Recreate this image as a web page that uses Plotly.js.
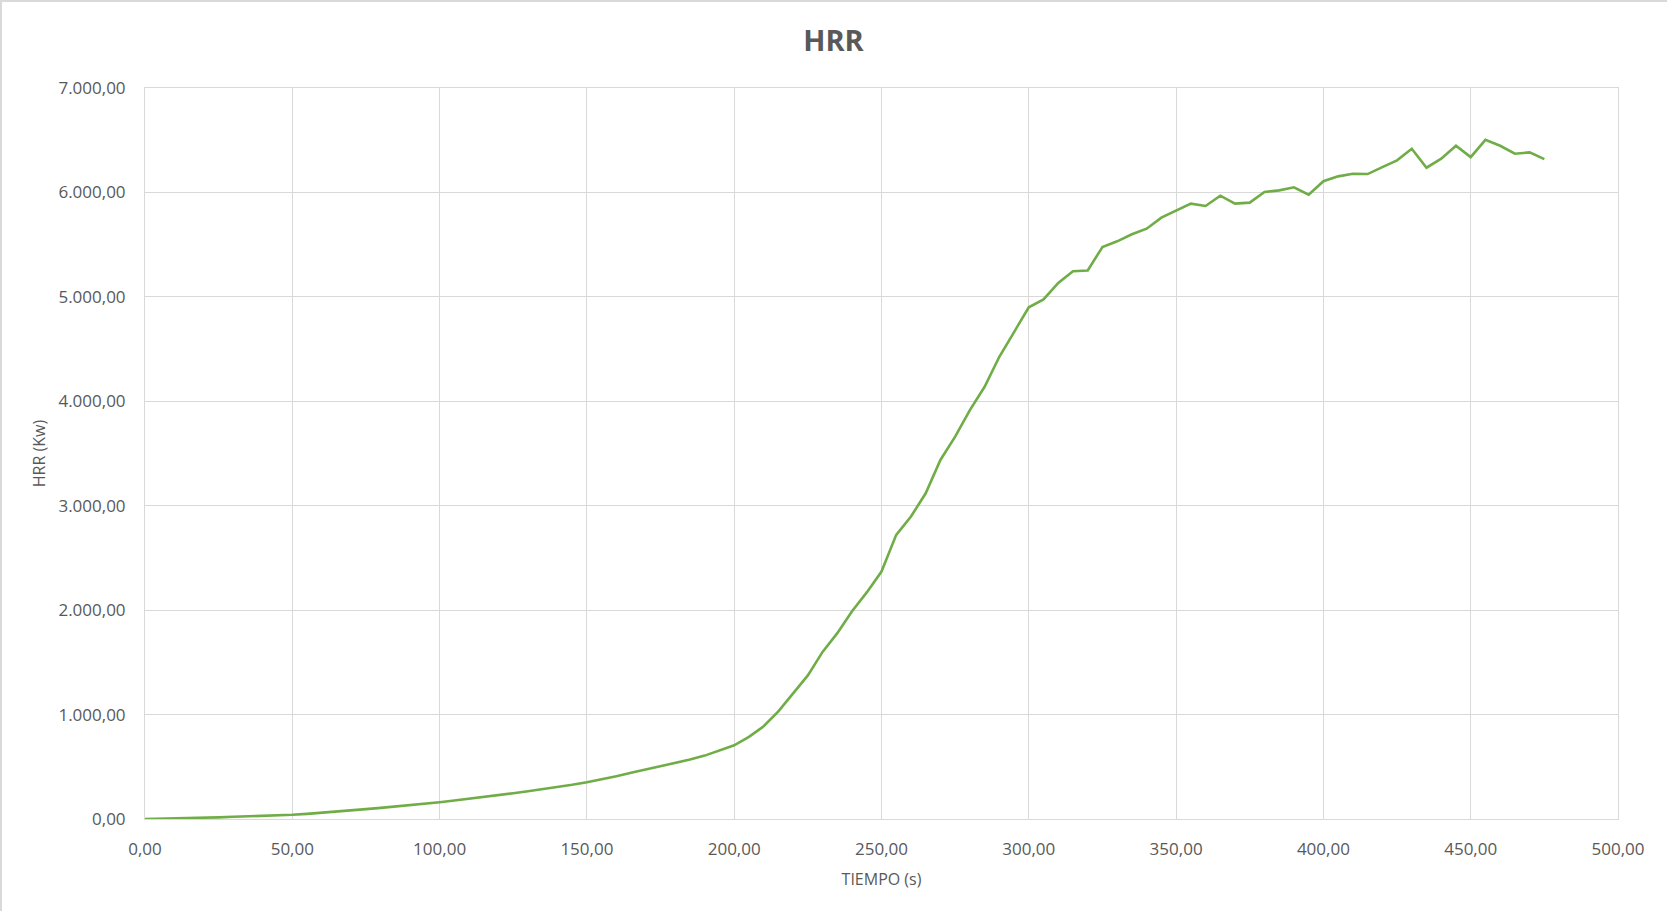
<!DOCTYPE html>
<html>
<head>
<meta charset="utf-8">
<script src="https://cdn.plot.ly/plotly-3.0.1.min.js"></script>
<style>
  html, body { margin: 0; padding: 0; background: #ffffff; }
  #wrap { position: relative; width: 1667px; height: 911px; overflow: hidden; }
  #chart { position: absolute; left: 0; top: 0; width: 1667px; height: 911px; }
  #frame { position: absolute; left: 0; top: 0; width: 1667px; height: 911px;
           border-top: 2px solid #d9d9d9; border-left: 2px solid #d9d9d9;
           box-sizing: border-box; pointer-events: none; }
</style>
</head>
<body>
<div id="wrap"><div id="chart"></div><div id="frame"></div></div>
<script>
// Time (s)
const tiempo = [
  0, 5, 10, 15, 20, 25, 30, 35, 40, 45,
  50, 55, 60, 65, 70, 75, 80, 85, 90, 95,
  100, 105, 110, 115, 120, 125, 130, 135, 140, 145,
  150, 155, 160, 165, 170, 175, 180, 185, 190, 195,
  200, 205, 210, 215, 220, 225, 230, 235, 240, 245,
  250, 255, 260, 265, 270, 275, 280, 285, 290, 295,
  300, 305, 310, 315, 320, 325, 330, 335, 340, 345,
  350, 355, 360, 365, 370, 375, 380, 385, 390, 395,
  400, 405, 410, 415, 420, 425, 430, 435, 440, 445,
  450, 455, 460, 465, 470, 475
];
// HRR (kW)
const hrr = [
  0, 2, 5, 8, 11, 16, 21, 25, 30, 35,
  40, 49, 59, 71, 84, 95, 107, 119, 132, 146,
  161, 177, 193, 210, 228, 247, 266, 285, 304, 328,
  352, 378, 410, 442, 473, 505, 534, 569, 607, 655,
  706, 786, 888, 1030, 1200, 1375, 1600, 1780, 1990, 2170,
  2370, 2721, 2896, 3119, 3438, 3661, 3916, 4139, 4426, 4665,
  4900, 4975, 5134, 5245, 5252, 5478, 5532, 5599, 5653, 5759,
  5829, 5893, 5870, 5969, 5893, 5902, 6004, 6020, 6049, 5979,
  6107, 6154, 6179, 6176, 6243, 6307, 6418, 6237, 6323, 6447,
  6338, 6504, 6447, 6371, 6383, 6319
];
const chartTitle = "HRR";
const xTitle = "TIEMPO (s)";
const yTitle = "HRR (Kw)";

const textColor = "#595959";
const gridColor = "#d9d9d9";
const fontFam = "'Open Sans', 'Liberation Sans', sans-serif";

const trace = {
  x: tiempo,
  y: hrr,
  type: "scatter",
  mode: "lines",
  line: { color: "#70AD47", width: 2.6 },
  hoverinfo: "x+y",
  showlegend: false
};

const layout = {
  width: 1667,
  height: 911,
  separators: ",.",
  paper_bgcolor: "#ffffff",
  plot_bgcolor: "#ffffff",
  margin: { l: 145, r: 49, t: 88, b: 92, pad: 0 },
  font: { family: fontFam, color: textColor, size: 17 },
  title: {
    text: "<b>" + chartTitle + "</b>",
    font: { family: fontFam, size: 29, color: textColor },
    x: 0.5, xref: "container", xanchor: "center",
    y: 0.955, yref: "container", yanchor: "middle"
  },
  xaxis: {
    range: [0, 500],
    dtick: 50,
    tick0: 0,
    tickformat: ",.2f",
    showgrid: true,
    gridcolor: gridColor,
    gridwidth: 1,
    zeroline: false,
    showline: true,
    mirror: true,
    linecolor: gridColor,
    linewidth: 1,
    ticks: "outside",
    ticklen: 15,
    tickcolor: "rgba(0,0,0,0)",
    tickfont: { family: fontFam, size: 17, color: textColor },
    title: { text: xTitle, font: { family: fontFam, size: 16, color: textColor }, standoff: 14 },
    fixedrange: true
  },
  yaxis: {
    range: [0, 7000],
    dtick: 1000,
    tick0: 0,
    tickformat: ",.2f",
    showgrid: true,
    gridcolor: gridColor,
    gridwidth: 1,
    zeroline: false,
    showline: true,
    mirror: true,
    linecolor: gridColor,
    linewidth: 1,
    ticks: "outside",
    ticklen: 15,
    tickcolor: "rgba(0,0,0,0)",
    tickfont: { family: fontFam, size: 17, color: textColor },
    title: { text: yTitle, font: { family: fontFam, size: 16, color: textColor }, standoff: 8 },
    fixedrange: true
  }
};

Plotly.newPlot("chart", [trace], layout, { displayModeBar: false, staticPlot: false });
</script>
</body>
</html>
